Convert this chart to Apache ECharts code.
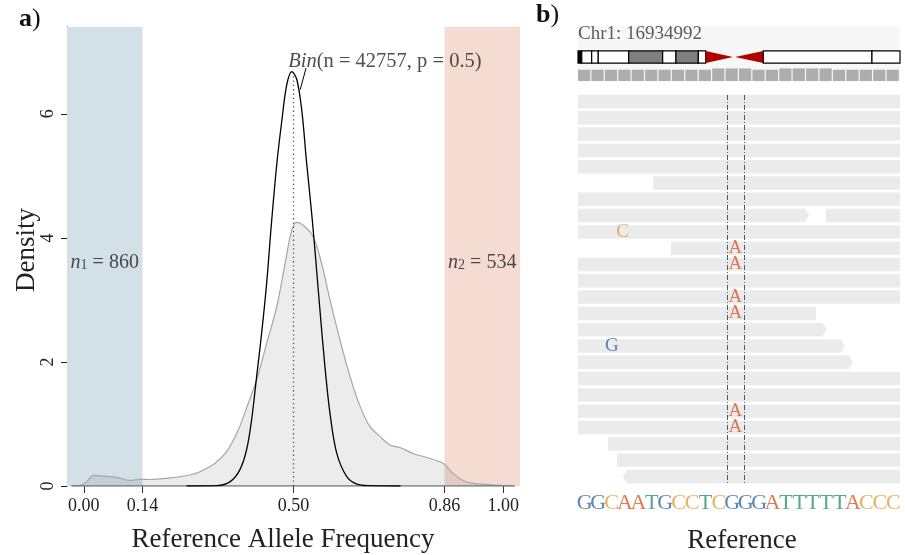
<!DOCTYPE html>
<html><head><meta charset="utf-8">
<script src="https://cdn.jsdelivr.net/npm/echarts@6/dist/echarts.min.js"></script>
<style>html,body{margin:0;padding:0;background:#fff}#c{width:905px;height:555px}</style>
</head><body><div id="c"></div>
<script>
// ================= Panel a data =================
const densityX = [-0.033,-0.009,0.007,0.023,0.046,0.078,0.110,0.134,0.158,0.206,0.253,0.277,0.313,0.340,0.368,0.392,0.412,0.436,0.460,0.480,0.496,0.508,0.527,0.547,0.567,0.587,0.611,0.635,0.659,0.682,0.706,0.730,0.754,0.786,0.818,0.849,0.860,0.881,0.905,0.929,0.961,0.992,1.023];
const densityY = [0,0.01,0.07,0.17,0.16,0.14,0.09,0.11,0.105,0.13,0.177,0.23,0.366,0.55,0.90,1.33,1.71,2.30,2.89,3.59,4.13,4.25,4.18,4.02,3.59,3.0,2.35,1.76,1.28,0.96,0.80,0.66,0.62,0.52,0.46,0.39,0.35,0.20,0.086,0.043,0.027,0.01,0];
const binX = [0.245,0.317,0.349,0.372,0.388,0.400,0.412,0.424,0.436,0.447,0.460,0.472,0.484,0.496,0.508,0.520,0.531,0.543,0.551,0.563,0.575,0.587,0.603,0.627,0.651,0.682,0.755];
const binY = [0,0.005,0.07,0.26,0.58,1.06,1.76,2.46,3.27,4.2,5.18,5.88,6.47,6.68,6.55,6.04,5.23,4.42,3.81,2.84,1.92,1.17,0.53,0.15,0.03,0.005,0];
const xTicks = [0, 0.14, 0.5, 0.86, 1.0];
const yTicks = [0, 2, 4, 6];
const xRange = [-0.04, 1.04];
const yRange = [0, 7.4];
const lowCut = 0.14, highCut = 0.86;
const n1 = 860, n2 = 534;
const binN = 42757, binP = 0.5;
const binPeak = 6.65;
const baseRange = [-0.029, 1.028];
const nLabelY = 3.6;
const binLabelPos = [0.718, 6.85];
const binLeader = [[0.530, 6.74], [0.516, 6.39]];

// ================= Panel b data =================
const chrLabel = 'Chr1: 16934992';
const refSeq = ['G','G','C','A','A','T','G','C','C','T','C','G','G','G','A','T','T','T','T','T','A','C','C','C'];
// ideogram bands: [start, end, kind]
const ideoStart = [0, 0.28, 1.02, 1.51, 3.78, 6.31, 7.30, 8.97, 9.52, 11.70, 13.81, 21.91];
const ideoEnd   = [0.28, 1.02, 1.51, 3.78, 6.31, 7.30, 8.97, 9.52, 11.55, 13.81, 21.91, 24];
const ideoKind  = ['k','w','w','w','g','w','g','w','rR','rL','w','w'];
const rulerTall = [10, 11, 12, 15, 16, 17, 18];
// reads: row, start, end, arrow (1 right, -1 left, 0 none)
const readRow   = [1,2,3,4,5,6,7,8,8,9,10,11,12,13,14,15,16,17,18,19,20,21,22,23,24];
const readStart = [0,0,0,0,0,5.59,0,0,18.48,0,6.93,0,0,0,0,0,0,0,0,0,0,0,2.24,2.91,3.35];
const readEnd   = [24,24,24,24,24,24,24,17.22,24,24,24,24,24,24,17.74,18.54,19.90,20.50,24,24,24,24,24,24,24];
const readArrow = [0,0,0,0,0,0,0,1,0,0,0,0,0,0,0,1,1,1,0,0,0,0,0,0,-1];
const misX    = [3.32, 11.73, 11.73, 11.73, 11.73, 2.53, 11.73, 11.73];
const misRow  = [9, 10, 11, 13, 14, 16, 20, 21];
const misBase = ['C','A','A','A','A','G','A','A'];
const variantLines = [11.08, 12.37];

const baseColor = {G:'#356aa0', C:'#e39d38', A:'#d9592a', T:'#25956a'};
const FONT = "'Liberation Serif','DejaVu Serif',serif";

// ---- layout constants for panel b (track rows) ----
const ROW_MIN = -4, ROW_MAX = 27;
const headerTop = -3.63, headerBot = -0.20;
const ideoTop = -2.10, ideoBot = -1.36;
const rulerTop = -0.95, rulerTopTall = -1.03, rulerBot = -0.26;
const refRow = 25.63, chrRow = -3.14;
const readHalf = 0.415;
const lineTop = 0.6, lineBot = 24.47;

const chart = echarts.init(document.getElementById('c'), null, {renderer:'canvas'});

const densityData = densityX.map((x,i)=>[x, densityY[i]]);
const binData = binX.map((x,i)=>[x, binY[i]]);
const regions = [[xRange[0], lowCut], [highCut, xRange[1]]];
const regionColors = ['#d3e0e8', '#f5dcd2'];

const richA = {
  it:{fontFamily:FONT, fontStyle:'italic', fontSize:20, color:'#222'},
  sub:{fontFamily:FONT, fontSize:14, color:'#222', verticalAlign:'bottom', lineHeight:8},
  rm:{fontFamily:FONT, fontSize:20, color:'#222'}
};
const richBin = {
  it:{fontFamily:FONT, fontStyle:'italic', fontSize:20.5, color:'#222'},
  rm:{fontFamily:FONT, fontSize:20.5, color:'#222'}
};

const annotations = [
  {value:[(xRange[0]+lowCut)/2, nLabelY], text:'{it|n}{sub|1}{rm| = ' + n1 + '}'},
  {value:[(highCut+xRange[1])/2, nLabelY], text:'{it|n}{sub|2}{rm| = ' + n2 + '}'}
];

const reads = readRow.map((r,i)=>[r, readStart[i], readEnd[i], readArrow[i]]);
const ideo = ideoStart.map((s,i)=>[s, ideoEnd[i], ideoKind[i]]);
const ruler = refSeq.map((_,i)=>[i, rulerTall.indexOf(i) >= 0 ? 1 : 0]);
const mism = misX.map((x,i)=>({value:[x, misRow[i]], base:misBase[i], label:{color:baseColor[misBase[i]]}}));
const refData = refSeq.map((b,i)=>({value:[i+0.5, refRow], base:b, label:{color:baseColor[b]}}));

const option = {
  animation:false,
  backgroundColor:'#fff',
  grid:[
    {left:67, top:27, width:453, height:459},
    {left:578, top:20, width:322, height:505.3}
  ],
  xAxis:[
    {type:'value', gridIndex:0, min:xRange[0], max:xRange[1],
     axisLine:{show:false, onZero:false}, splitLine:{show:false},
     axisTick:{show:true, customValues:xTicks, length:7, lineStyle:{color:'#333', width:1}},
     axisLabel:{show:true, customValues:xTicks, formatter:v=>v.toFixed(2), fontFamily:FONT, fontSize:18, color:'#222', margin:11}},
    {type:'value', gridIndex:1, min:0, max:24, show:false}
  ],
  yAxis:[
    {type:'value', gridIndex:0, min:yRange[0], max:yRange[1],
     axisLine:{show:true, onZero:false, lineStyle:{color:'#222', width:1}}, splitLine:{show:false},
     axisTick:{show:true, customValues:yTicks, length:6, lineStyle:{color:'#222'}},
     axisLabel:{show:true, customValues:yTicks, rotate:90, fontFamily:FONT, fontSize:18, color:'#222', margin:10}},
    {type:'value', gridIndex:1, min:ROW_MIN, max:ROW_MAX, inverse:true, show:false}
  ],
  graphic:[
    {type:'text', left:19, top:6, style:{text:'{b|a}{r|)}', rich:{b:{fontFamily:FONT, fontWeight:'bold', fontSize:26, fill:'#111'}, r:{fontFamily:FONT, fontSize:26, fill:'#111'}}}},
    {type:'text', left:536, top:2, style:{text:'{b|b}{r|)}', rich:{b:{fontFamily:FONT, fontWeight:'bold', fontSize:26, fill:'#111'}, r:{fontFamily:FONT, fontSize:26, fill:'#111'}}}},
    {type:'text', x:27, y:250, rotation:Math.PI/2, style:{text:'Density', fontFamily:FONT, fontSize:27, fill:'#222', align:'center', verticalAlign:'middle'}},
    {type:'text', x:283, y:540, style:{text:'Reference Allele Frequency', fontFamily:FONT, fontSize:27, fill:'#222', align:'center', verticalAlign:'middle'}},
    {type:'text', x:742, y:541, style:{text:'Reference', fontFamily:FONT, fontSize:27, fill:'#222', align:'center', verticalAlign:'middle'}}
  ],
  series:[
    // shaded regions
    {type:'custom', xAxisIndex:0, yAxisIndex:0, z:1, data:regions,
     encode:{x:[0,1]},
     renderItem:(p,api)=>{
       const r = regions[p.dataIndex];
       const a = api.coord([r[0], yRange[1]]), b = api.coord([r[1], yRange[0]]);
       return {type:'rect', shape:{x:a[0], y:a[1], width:b[0]-a[0], height:b[1]-a[1]}, style:{fill:regionColors[p.dataIndex]}};
     }},
    // empirical density
    {type:'line', xAxisIndex:0, yAxisIndex:0, z:3, data:densityData, smooth:0.35, symbol:'none',
     lineStyle:{color:'#a6a6a6', width:1.2}, areaStyle:{color:'rgba(0,0,0,0.105)'}},
    // baseline
    {type:'line', xAxisIndex:0, yAxisIndex:0, z:4, data:[[baseRange[0],0],[baseRange[1],0]], symbol:'none',
     lineStyle:{color:'#777', width:1.3}},
    // binomial curve
    {type:'line', xAxisIndex:0, yAxisIndex:0, z:5, data:binData, smooth:0.35, symbol:'none',
     lineStyle:{color:'#000', width:1.3}},
    // dotted p line
    {type:'line', xAxisIndex:0, yAxisIndex:0, z:5, data:[[binP,0],[binP,binPeak]], symbol:'none',
     lineStyle:{color:'#555', width:1.3, type:[1.3,3]}},
    // leader
    {type:'line', xAxisIndex:0, yAxisIndex:0, z:5, data:binLeader, symbol:'none',
     lineStyle:{color:'#000', width:1}},
    // annotations
    {type:'scatter', xAxisIndex:0, yAxisIndex:0, z:6, symbolSize:0, data:annotations.map(a=>({value:a.value, t:a.text})),
     label:{show:true, position:'inside', formatter:p=>p.data.t, rich:richA}},
    {type:'scatter', xAxisIndex:0, yAxisIndex:0, z:6, symbolSize:0, data:[binLabelPos],
     label:{show:true, position:'inside', formatter:()=>'{it|Bin}{rm|(n = ' + binN + ', p = ' + binP + ')}', rich:richBin}},

    // ====== panel b ======
    {type:'custom', xAxisIndex:1, yAxisIndex:1, z:1, data:[[0,24]],
     renderItem:(p,api)=>{
       const a = api.coord([0, headerTop]), b = api.coord([24, headerBot]);
       return {type:'rect', shape:{x:a[0], y:a[1], width:b[0]-a[0], height:b[1]-a[1]}, style:{fill:'#f7f7f7'}};
     }},
    {type:'scatter', xAxisIndex:1, yAxisIndex:1, z:3, symbolSize:0, data:[[0, chrRow]],
     label:{show:true, position:'right', distance:0, formatter:()=>chrLabel, fontFamily:FONT, fontSize:19, color:'#333'}},
    // ideogram
    {type:'custom', xAxisIndex:1, yAxisIndex:1, z:3, data:ideo,
     renderItem:(p,api)=>{
       const d = ideo[p.dataIndex];
       const a = api.coord([d[0], ideoTop]), b = api.coord([d[1], ideoBot]);
       const x0=a[0], x1=b[0], t=a[1], bt=b[1], m=(t+bt)/2;
       if (d[2]==='rR') return {type:'polygon', shape:{points:[[x0,t],[x1,m],[x0,bt]]}, style:{fill:'#b30000'}};
       if (d[2]==='rL') return {type:'polygon', shape:{points:[[x1,t],[x0,m],[x1,bt]]}, style:{fill:'#b30000'}};
       const fill = d[2]==='k' ? '#000' : (d[2]==='g' ? '#808080' : '#fff');
       return {type:'rect', shape:{x:x0, y:t, width:x1-x0, height:bt-t}, style:{fill:fill, stroke:'#000', lineWidth:1.2}};
     }},
    // ruler
    {type:'custom', xAxisIndex:1, yAxisIndex:1, z:3, data:ruler,
     renderItem:(p,api)=>{
       const d = ruler[p.dataIndex];
       const a = api.coord([d[0], d[1] ? rulerTopTall : rulerTop]), b = api.coord([d[0]+1, rulerBot]);
       return {type:'rect', shape:{x:a[0], y:a[1], width:b[0]-a[0]-1.2, height:b[1]-a[1]}, style:{fill:'#adadad'}};
     }},
    // reads
    {type:'custom', xAxisIndex:1, yAxisIndex:1, z:2, data:reads,
     renderItem:(p,api)=>{
       const d = reads[p.dataIndex];
       const a = api.coord([d[1], d[0]-readHalf]), b = api.coord([d[2], d[0]+readHalf]);
       const x0=a[0], x1=b[0], t=a[1], bt=b[1], m=(t+bt)/2, tip=4;
       let pts;
       if (d[3]===1) pts=[[x0,t],[x1-tip,t],[x1,m],[x1-tip,bt],[x0,bt]];
       else if (d[3]===-1) pts=[[x0+tip,t],[x1,t],[x1,bt],[x0+tip,bt],[x0,m]];
       else pts=[[x0,t],[x1,t],[x1,bt],[x0,bt]];
       return {type:'polygon', shape:{points:pts}, style:{fill:'#ebebeb'}};
     }},
    // variant lines
    {type:'custom', xAxisIndex:1, yAxisIndex:1, z:4, data:variantLines.map(v=>[v]),
     renderItem:(p,api)=>{
       const x = variantLines[p.dataIndex];
       const a = api.coord([x, lineTop]), b = api.coord([x, lineBot]);
       return {type:'line', shape:{x1:Math.round(a[0])+0.5, y1:a[1], x2:Math.round(a[0])+0.5, y2:b[1]}, style:{stroke:'#555', lineWidth:1, lineDash:[5,2,1,2]}};
     }},
    // mismatches
    {type:'scatter', xAxisIndex:1, yAxisIndex:1, z:5, symbolSize:0, data:mism,
     label:{show:true, position:'inside', formatter:p=>p.data.base, fontFamily:FONT, fontSize:19}},
    // reference sequence
    {type:'scatter', xAxisIndex:1, yAxisIndex:1, z:5, symbolSize:0, data:refData,
     label:{show:true, position:'inside', formatter:p=>p.data.base, fontFamily:FONT, fontSize:22}}
  ]
};
chart.setOption(option);
</script></body></html>
